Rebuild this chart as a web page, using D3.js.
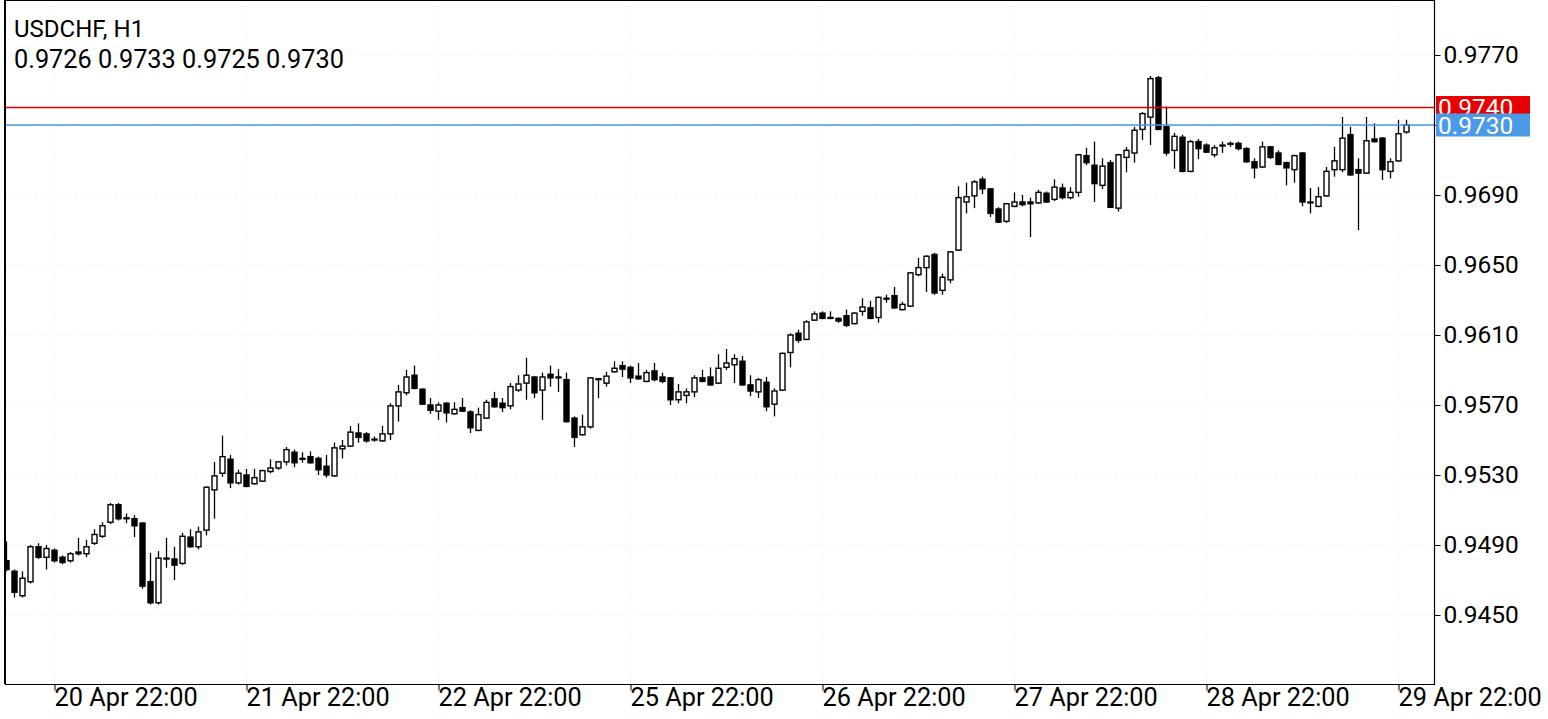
<!DOCTYPE html>
<html><head><meta charset="utf-8">
<script src="https://cdn.jsdelivr.net/npm/d3@7"></script>
<style>
html,body{margin:0;padding:0;background:#fff;overflow:hidden}
svg{display:block}
text{font-family:Roboto,"Noto Sans",sans-serif}
</style>
</head><body>
<svg id="c" width="1548" height="719"></svg>
<script>
const symbolTitle = "USDCHF, H1";
const ohlcText = "0.9726 0.9733 0.9725 0.9730";

const open = [
0.9481,0.9475,0.9461,0.9469,0.9489,0.9483,0.9487,0.9483,0.9481,0.9486,
0.9485,0.9491,0.9495,0.9503,0.9513,0.95055,0.9505,0.95025,0.9469,0.9457,
0.94825,0.9482,0.94795,0.94945,0.9489,0.94985,0.95215,0.9531,0.9539,0.95255,
0.9530,0.9525,0.95265,0.9532,0.9534,0.95375,0.9543,0.95395,0.95405,0.95395,
0.9535,0.95295,0.9545,0.95465,0.9554,0.95535,0.95505,0.95495,0.95535,0.95695,
0.9577,0.9587,0.9579,0.9570,0.95665,0.9571,0.9565,0.95685,0.9566,0.95555,
0.95625,0.95735,0.9571,0.95695,0.95785,0.95825,0.9586,0.95785,0.95875,0.9586,
0.95845,0.95625,0.9553,0.95575,0.9585,0.95825,0.9589,0.95925,0.95915,0.95865,
0.95835,0.95895,0.9586,0.95855,0.9573,0.95755,0.95775,0.95855,0.9586,0.95825,
0.95915,0.9593,0.9595,0.95815,0.95775,0.9583,0.95705,0.95785,0.9600,0.9611,
0.96075,0.96185,0.96225,0.9620,0.96195,0.9621,0.96165,0.96235,0.96255,0.9620,
0.9631,0.96325,0.96245,0.96265,0.96445,0.96485,0.9656,0.96355,0.96415,0.96585,
0.9686,0.96895,0.9699,0.96935,0.9682,0.9675,0.96835,0.9686,0.9686,0.96855,
0.9691,0.96875,0.9694,0.96885,0.96915,0.97125,0.9707,0.96955,0.97085,0.96825,
0.97115,0.9714,0.97275,0.97345,0.9757,0.9729,0.97155,0.9723,0.97035,0.97205,
0.97185,0.9713,0.97185,0.9719,0.97195,0.97165,0.9709,0.9706,0.97175,0.9714,
0.97085,0.97045,0.9714,0.9686,0.96835,0.96895,0.97045,0.97045,0.97245,0.97045,
0.97025,0.9722,0.97225,0.97035,0.97095,0.9726];

const high = [
0.9492,0.9476,0.9475,0.9490,0.9491,0.9490,0.9488,0.9484,0.9486,0.9494,
0.9493,0.9499,0.9503,0.9514,0.9514,0.9508,0.9507,0.9503,0.94855,0.94865,
0.9494,0.9489,0.9497,0.9499,0.95005,0.95235,0.95375,0.95525,0.95415,0.9533,
0.95335,0.95335,0.9533,0.9539,0.9538,0.9546,0.95445,0.9543,0.95435,0.95405,
0.95415,0.95485,0.9550,0.9558,0.95595,0.95545,0.9552,0.9558,0.9571,0.95815,
0.9590,0.95925,0.95795,0.9574,0.95715,0.95715,0.95715,0.9574,0.9567,0.95685,
0.9573,0.95775,0.9574,0.95825,0.9587,0.9597,0.95865,0.95885,0.95925,0.95905,
0.95885,0.95635,0.95645,0.9586,0.95855,0.9589,0.9595,0.9595,0.95925,0.9594,
0.9590,0.9594,0.95885,0.9586,0.9582,0.95795,0.9587,0.9590,0.95915,0.9599,
0.9602,0.9599,0.9598,0.9587,0.95855,0.9586,0.95795,0.9600,0.9611,0.9613,
0.96185,0.96235,0.96235,0.96235,0.9620,0.96245,0.9623,0.9631,0.96295,0.9632,
0.9633,0.96375,0.9629,0.9646,0.9654,0.96555,0.9657,0.9645,0.9658,0.9695,
0.9697,0.96985,0.97005,0.9694,0.9683,0.96855,0.96915,0.9690,0.96885,0.9693,
0.9692,0.9699,0.96965,0.96945,0.97135,0.9717,0.97205,0.9711,0.9710,0.97135,
0.97175,0.9729,0.97375,0.9758,0.9758,0.97405,0.97255,0.97245,0.97215,0.9722,
0.97195,0.97185,0.97205,0.97205,0.97205,0.97175,0.9711,0.97205,0.9718,0.97155,
0.9709,0.9713,0.97145,0.9694,0.96945,0.9706,0.97175,0.97345,0.9729,0.9711,
0.97345,0.9731,0.9723,0.9711,0.9733,0.9733];

const low = [
0.9475,0.9460,0.9460,0.9468,0.9482,0.9476,0.9480,0.9479,0.9480,0.9484,
0.9483,0.9490,0.9494,0.9502,0.9504,0.95025,0.94945,0.9465,0.9456,0.9456,
0.9477,0.9470,0.94785,0.94885,0.94875,0.94955,0.9505,0.9529,0.95225,0.95245,
0.9523,0.95245,0.9526,0.9531,0.9533,0.95355,0.95345,0.9537,0.95365,0.9530,
0.95285,0.9529,0.95395,0.9546,0.95485,0.95485,0.9549,0.9549,0.9550,0.95605,
0.95755,0.9579,0.9570,0.9565,0.95615,0.9560,0.95645,0.9566,0.9554,0.9555,
0.9562,0.95685,0.9566,0.95675,0.95775,0.9573,0.9574,0.95615,0.95805,0.95775,
0.9560,0.9546,0.95525,0.95565,0.9574,0.95805,0.95885,0.9586,0.95825,0.95845,
0.9583,0.95835,0.95825,0.9570,0.9571,0.9571,0.95745,0.9583,0.9581,0.9582,
0.9590,0.95825,0.9581,0.9575,0.9574,0.95665,0.95635,0.9578,0.95915,0.96055,
0.9607,0.9618,0.9619,0.9619,0.9617,0.96145,0.9616,0.9621,0.9619,0.9617,
0.96285,0.9625,0.9624,0.9626,0.96435,0.96345,0.9633,0.9633,0.96395,0.9658,
0.96795,0.96825,0.96905,0.96775,0.9674,0.9674,0.9683,0.96835,0.9666,0.9685,
0.96855,0.96865,0.96875,0.96875,0.9689,0.9707,0.9686,0.96935,0.96825,0.96805,
0.9703,0.97085,0.97215,0.97185,0.9727,0.97125,0.9705,0.9703,0.9703,0.97105,
0.9714,0.97115,0.9714,0.97175,0.97155,0.97085,0.96995,0.97055,0.97105,0.9707,
0.96955,0.9697,0.96835,0.96795,0.9683,0.9689,0.97005,0.9703,0.9701,0.9670,
0.9702,0.9720,0.96985,0.96995,0.9709,0.9725];

const close = [
0.9476,0.9463,0.9471,0.9489,0.9483,0.9488,0.9481,0.9480,0.9485,0.9485,
0.9489,0.9496,0.9501,0.9513,0.9505,0.9505,0.9501,0.94665,0.9457,0.94825,
0.9482,0.94785,0.9495,0.9489,0.94975,0.9523,0.95295,0.95405,0.95255,0.9531,
0.95235,0.95285,0.95325,0.9534,0.95375,0.95445,0.9537,0.9539,0.9537,0.9533,
0.9530,0.95455,0.95465,0.95545,0.95515,0.95495,0.9550,0.95535,0.95695,0.95775,
0.9586,0.95795,0.95705,0.9567,0.9570,0.95655,0.95675,0.95665,0.9557,0.95645,
0.95715,0.9569,0.95685,0.95805,0.9582,0.9587,0.9577,0.9586,0.95855,0.95855,
0.95605,0.95515,0.95575,0.95855,0.95845,0.95865,0.9591,0.95905,0.95855,0.9585,
0.95885,0.95845,0.95835,0.9573,0.95775,0.95775,0.95855,0.95835,0.95815,0.9591,
0.9594,0.95965,0.95815,0.9578,0.95845,0.9569,0.9578,0.95995,0.9610,0.9607,
0.96175,0.9622,0.96195,0.96195,0.9618,0.96155,0.96225,0.9626,0.96195,0.96315,
0.96305,0.96255,0.96275,0.96455,0.96485,0.9655,0.9634,0.9643,0.96575,0.96885,
0.9689,0.96975,0.96935,0.96795,0.96745,0.9685,0.9686,0.96845,0.9685,0.96915,
0.9686,0.96945,0.96885,0.96915,0.9713,0.97085,0.96965,0.97065,0.9683,0.9713,
0.97155,0.9727,0.97365,0.97565,0.97275,0.9714,0.97235,0.97035,0.97205,0.97165,
0.97145,0.9717,0.9718,0.97195,0.97165,0.9709,0.97055,0.97175,0.97115,0.97075,
0.97055,0.97125,0.9686,0.96855,0.9689,0.97035,0.97095,0.97225,0.97015,0.97025,
0.9721,0.97205,0.97045,0.9709,0.9725,0.9730];

const timeTickIndex = [6,30,54,78,102,126,150,174];
const timeTickLabels = ["20 Apr 22:00","21 Apr 22:00","22 Apr 22:00","25 Apr 22:00","26 Apr 22:00","27 Apr 22:00","28 Apr 22:00","29 Apr 22:00"];
const priceTicks = [0.9450,0.9490,0.9530,0.9570,0.9610,0.9650,0.9690,0.9730,0.9770];
const levelPrices = [0.9740,0.9730];
const levelColors = ["#d90000","#4a94e0"];
const levelBoxColors = ["#e80000","#4a9ae8"];

const svg = d3.select("#c");
const plotL = 5, plotR = 1434, plotT = 0, plotB = 684;
const n = open.length;
const x = d3.scaleLinear().domain([0, n - 1]).range([6, 1406]);
const y = d3.scaleLinear().domain([0.9450, 0.9770]).range([615, 55]);
const FS = 24.5;
const FSX = 25.3;

svg.append("defs").append("clipPath").attr("id","plotclip")
  .append("rect").attr("x", plotL + 1).attr("y", plotT).attr("width", plotR - plotL - 1).attr("height", plotB - plotT);

// faint grid
const grid = svg.append("g").attr("clip-path","url(#plotclip)");
grid.selectAll("line.gy").data(priceTicks).join("line")
  .attr("x1", plotL).attr("x2", plotR)
  .attr("y1", d => Math.round(y(d)) + 0.5).attr("y2", d => Math.round(y(d)) + 0.5)
  .attr("stroke", "#f3f3f3").attr("stroke-dasharray", "2,3");
grid.selectAll("line.gx").data(timeTickIndex).join("line")
  .attr("x1", d => Math.round(x(d)) + 0.5).attr("x2", d => Math.round(x(d)) + 0.5)
  .attr("y1", plotT).attr("y2", plotB)
  .attr("stroke", "#f3f3f3").attr("stroke-dasharray", "2,3");

// candles
const candles = d3.range(n).map(i => ({i, o: open[i], h: high[i], l: low[i], c: close[i]}));
const cg = svg.append("g").attr("clip-path","url(#plotclip)");
const bw = 5;
const g = cg.selectAll("g.cd").data(candles).join("g").attr("class","cd");
g.append("line")
  .attr("x1", d => Math.round(x(d.i)) + 0.5).attr("x2", d => Math.round(x(d.i)) + 0.5)
  .attr("y1", d => y(d.h)).attr("y2", d => y(d.l))
  .attr("stroke", "#000").attr("stroke-width", 1.3);
g.append("rect")
  .attr("x", d => Math.round(x(d.i)) - bw/2 + 0.5)
  .attr("y", d => Math.min(y(d.o), y(d.c)))
  .attr("width", bw)
  .attr("height", d => Math.max(0.01, Math.abs(y(d.o) - y(d.c))))
  .attr("fill", d => d.c >= d.o ? "#fff" : "#000")
  .attr("stroke", "#000").attr("stroke-width", 1.4);

// level lines
const lv = svg.append("g");
levelPrices.forEach((p, k) => {
  lv.append("line").attr("x1", plotL).attr("x2", plotR)
    .attr("y1", y(p)).attr("y2", y(p))
    .attr("stroke", levelColors[k]).attr("stroke-width", 1.5);
});

// frame
const fr = svg.append("g").attr("stroke", "#000").attr("fill","none");
fr.append("line").attr("x1", plotL).attr("x2", plotL).attr("y1", 0).attr("y2", plotB).attr("stroke-width", 2);
fr.append("line").attr("x1", plotL).attr("x2", plotR).attr("y1", 0.5).attr("y2", 0.5).attr("stroke-width", 1);
fr.append("line").attr("x1", plotR + 0.5).attr("x2", plotR + 0.5).attr("y1", 0).attr("y2", plotB + 1).attr("stroke-width", 1.2);
fr.append("line").attr("x1", plotL).attr("x2", plotR).attr("y1", plotB + 0.5).attr("y2", plotB + 0.5).attr("stroke-width", 1.2);

// y axis
const ya = svg.append("g").attr("transform", `translate(${plotR + 0.5},0)`)
  .call(d3.axisRight(y).tickValues(priceTicks).tickSize(6).tickSizeOuter(0).tickPadding(3).tickFormat(d3.format(".4f")));
ya.select(".domain").remove();
ya.selectAll("text").attr("font-size", FS).attr("fill", "#000").attr("font-family", "Roboto, sans-serif");
ya.selectAll("line").attr("stroke", "#000");

// x axis
const xa = svg.append("g").attr("transform", `translate(0,${plotB + 0.5})`)
  .call(d3.axisBottom(x).tickValues(timeTickIndex).tickSize(6).tickSizeOuter(0)
    .tickFormat((d, i) => timeTickLabels[i]));
xa.select(".domain").remove();
xa.selectAll("line").attr("stroke", "#000").attr("transform", "translate(0.5,0)");
xa.selectAll("text").attr("font-size", FSX).attr("fill", "#000").attr("text-anchor", "start")
  .attr("dx", 0).attr("y", 4).attr("dy", "0.71em").attr("font-family", "Roboto, sans-serif");

// level price boxes (blue drawn over red, as in the reference)
levelPrices.forEach((p, k) => {
  const cy = y(p);
  svg.append("rect").attr("x", plotR + 2).attr("y", cy - 11.5).attr("width", 94).attr("height", 23)
    .attr("fill", levelBoxColors[k]);
  svg.append("text").attr("x", plotR + 4).attr("y", cy).attr("dy", "0.36em")
    .attr("font-size", FS).attr("fill", "#fff").text(d3.format(".4f")(p));
});

// titles
svg.append("text").attr("x", 14).attr("y", 37).attr("font-size", 24).attr("fill", "#000").text(symbolTitle);
svg.append("text").attr("x", 14).attr("y", 68).attr("font-size", FSX).attr("fill", "#000").text(ohlcText);
</script>
</body></html>
